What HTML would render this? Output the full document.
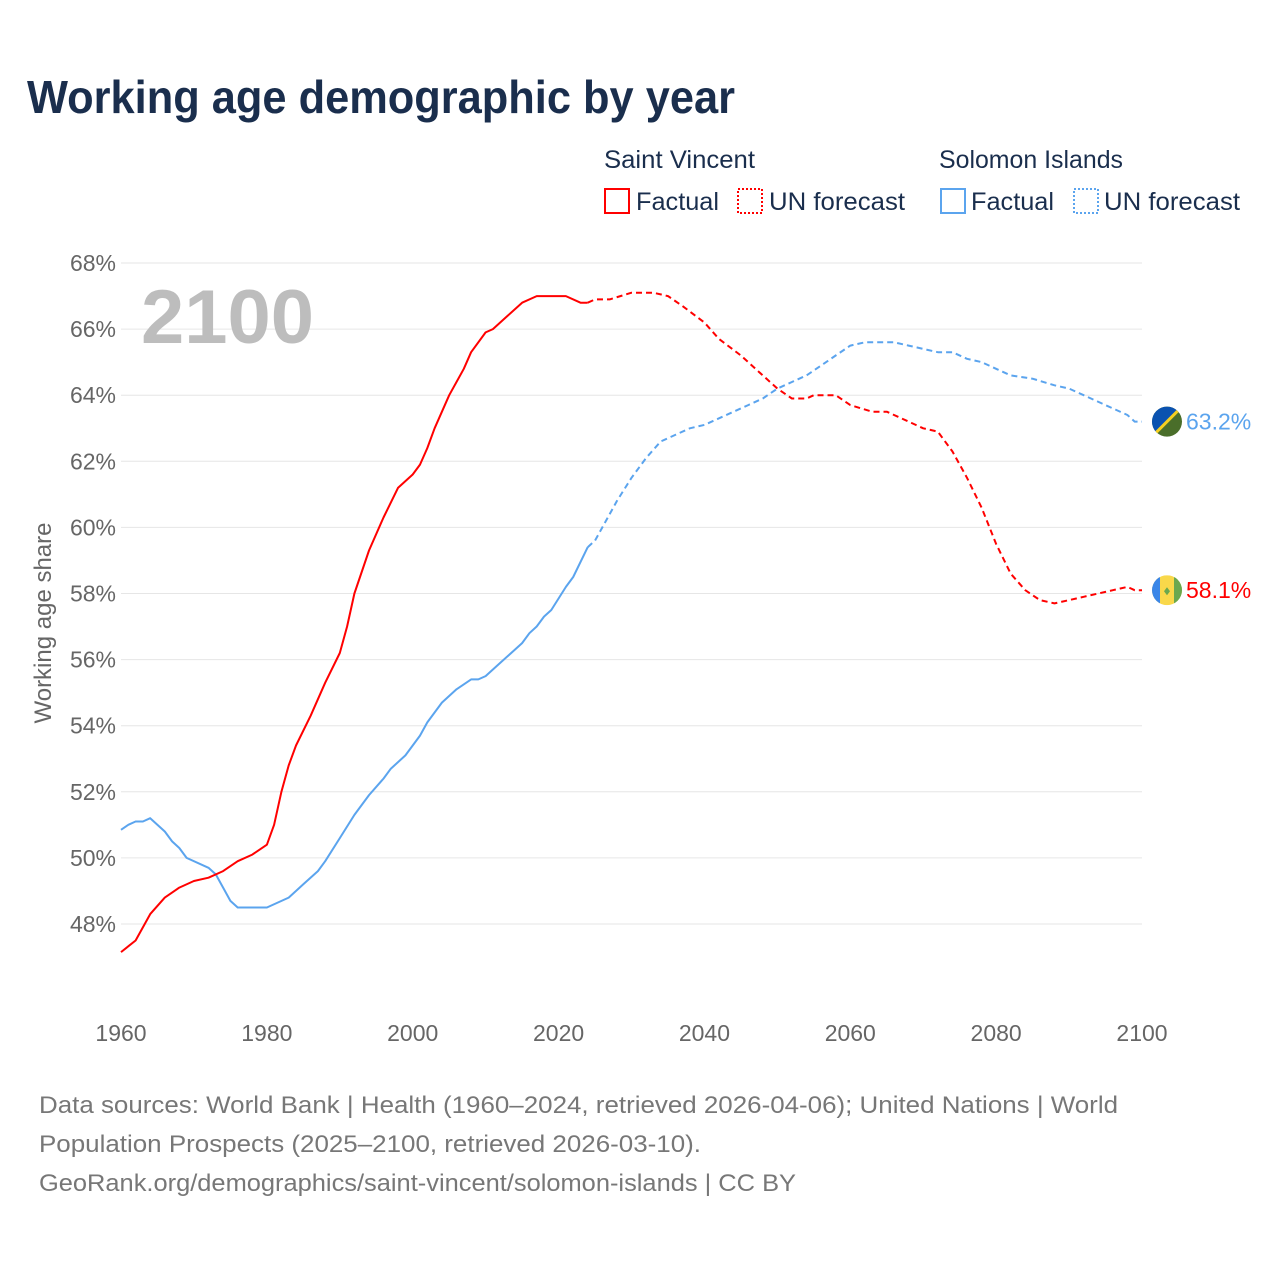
<!DOCTYPE html>
<html><head><meta charset="utf-8"><style>
html,body{margin:0;padding:0;background:#fff;}
svg{display:block;font-family:"Liberation Sans",sans-serif;}
</style></head><body>
<svg id="chart" width="1280" height="1280" viewBox="0 0 1280 1280" xmlns="http://www.w3.org/2000/svg">
<text x="27" y="113" font-size="46" font-weight="bold" fill="#1a2e4d" textLength="708" lengthAdjust="spacingAndGlyphs">Working age demographic by year</text>
<g fill="#1a2e4d" font-size="25">
<text x="604" y="168" textLength="151" lengthAdjust="spacingAndGlyphs">Saint Vincent</text>
<text x="939" y="168" textLength="184" lengthAdjust="spacingAndGlyphs">Solomon Islands</text>
<g><rect x="605" y="189" width="24" height="24" fill="none" stroke="#ff0000" stroke-width="2"/><text x="636" y="210" textLength="83" lengthAdjust="spacingAndGlyphs">Factual</text></g>
<g><rect x="738" y="189" width="24" height="24" fill="none" stroke="#ff0000" stroke-width="2" stroke-dasharray="2,2"/><text x="769" y="210" textLength="136" lengthAdjust="spacingAndGlyphs">UN forecast</text></g>
<g><rect x="941" y="189" width="24" height="24" fill="none" stroke="#5ba4ee" stroke-width="2"/><text x="971" y="210" textLength="83" lengthAdjust="spacingAndGlyphs">Factual</text></g>
<g><rect x="1074" y="189" width="24" height="24" fill="none" stroke="#5ba4ee" stroke-width="2" stroke-dasharray="2,2"/><text x="1104" y="210" textLength="136" lengthAdjust="spacingAndGlyphs">UN forecast</text></g>
</g>
<g id="grid"></g>
<text x="141" y="343" font-size="76" font-weight="bold" fill="#bdbdbd" textLength="173" lengthAdjust="spacingAndGlyphs">2100</text>
<text transform="translate(51,623) rotate(-90)" text-anchor="middle" font-size="24" fill="#666">Working age share</text>
<g id="series"></g>
<g font-size="24" fill="#777">
<text x="39" y="1113" textLength="1079" lengthAdjust="spacingAndGlyphs">Data sources: World Bank | Health (1960–2024, retrieved 2026-04-06); United Nations | World</text>
<text x="39" y="1152" textLength="662" lengthAdjust="spacingAndGlyphs">Population Prospects (2025–2100, retrieved 2026-03-10).</text>
<text x="39" y="1191" textLength="757" lengthAdjust="spacingAndGlyphs">GeoRank.org/demographics/saint-vincent/solomon-islands | CC BY</text>
</g>
</svg>
<script>
const yTicks=[48,50,52,54,56,58,60,62,64,66,68];
const xTicks=[1960,1980,2000,2020,2040,2060,2080,2100];
const svYears=[1960,1962,1964,1966,1968,1970,1972,1974,1976,1978,1980,1981,1982,1983,1984,1986,1988,1990,1991,1992,1994,1996,1998,2000,2001,2002,2003,2005,2007,2008,2010,2011,2013,2015,2017,2021,2023,2024];
const svValues=[47.15,47.5,48.3,48.8,49.1,49.3,49.4,49.6,49.9,50.1,50.4,51.0,52.0,52.8,53.4,54.3,55.3,56.2,57.0,58.0,59.3,60.3,61.2,61.6,61.9,62.4,63.0,64.0,64.8,65.3,65.9,66.0,66.4,66.8,67.0,67.0,66.8,66.8];
const svFYears=[2024,2025,2027,2030,2033,2035,2037,2040,2042,2045,2047,2050,2052,2054,2055,2058,2060,2063,2065,2068,2070,2072,2074,2076,2078,2080,2082,2084,2086,2088,2090,2092,2094,2096,2098,2099,2100];
const svFValues=[66.8,66.9,66.9,67.1,67.1,67.0,66.7,66.2,65.7,65.2,64.8,64.2,63.9,63.9,64.0,64.0,63.7,63.5,63.5,63.2,63.0,62.9,62.3,61.5,60.6,59.5,58.6,58.1,57.8,57.7,57.8,57.9,58.0,58.1,58.2,58.1,58.1];
const siYears=[1960,1961,1962,1963,1964,1966,1967,1968,1969,1972,1973,1974,1975,1976,1980,1983,1985,1987,1988,1990,1992,1994,1996,1997,1999,2001,2002,2004,2006,2008,2009,2010,2012,2014,2015,2016,2017,2018,2019,2021,2022,2024];
const siValues=[50.85,51.0,51.1,51.1,51.2,50.8,50.5,50.3,50.0,49.7,49.5,49.1,48.7,48.5,48.5,48.8,49.2,49.6,49.9,50.6,51.3,51.9,52.4,52.7,53.1,53.7,54.1,54.7,55.1,55.4,55.4,55.5,55.9,56.3,56.5,56.8,57.0,57.3,57.5,58.2,58.5,59.4];
const siFYears=[2024,2025,2028,2030,2032,2034,2036,2038,2040,2042,2044,2046,2048,2050,2052,2054,2056,2058,2060,2062,2066,2068,2070,2072,2074,2076,2078,2080,2082,2085,2088,2090,2092,2095,2098,2099,2100];
const siFValues=[59.4,59.6,60.8,61.5,62.1,62.6,62.8,63.0,63.1,63.3,63.5,63.7,63.9,64.2,64.4,64.6,64.9,65.2,65.5,65.6,65.6,65.5,65.4,65.3,65.3,65.1,65.0,64.8,64.6,64.5,64.3,64.2,64.0,63.7,63.4,63.2,63.2];
const endLabels=["58.1%","63.2%"];
const NS="http://www.w3.org/2000/svg";
const X=y=>121+(y-1960)*(1021/140);
const Y=v=>263+(68-v)*(661/20);
const grid=document.getElementById('grid');
function mk(tag,attrs,parent){const e=document.createElementNS(NS,tag);for(const k in attrs)e.setAttribute(k,attrs[k]);parent.appendChild(e);return e;}
yTicks.forEach(t=>{
  const l=mk('line',{x1:121,x2:1142,y1:Y(t),y2:Y(t),stroke:'#e6e6e6','stroke-width':1},grid);
  
  
  const tx=mk('text',{x:116,y:Y(t)+8,'text-anchor':'end','font-size':23,fill:'#666'},grid);
  
  
  tx.textContent=t+'%';
});
xTicks.forEach(t=>{
  const tx=mk('text',{x:X(t),y:1041,'text-anchor':'middle','font-size':23,fill:'#666'},grid);
  
  
  tx.textContent=t;
});
const ser=document.getElementById('series');
function line(xs,vs,color,dash,name){
  const d=xs.map((x,i)=>(i?'L':'M')+X(x).toFixed(1)+','+Y(vs[i]).toFixed(1)).join('');
  const p=mk('path',{d:d,fill:'none',stroke:color,'stroke-width':2,'stroke-linejoin':'round'},ser);
  if(dash)p.setAttribute('stroke-dasharray','6,4');
  
  
}
line(siYears,siValues,'#5ba4ee',false,'solomon-islands-factual-line');
line(siFYears,siFValues,'#5ba4ee',true,'solomon-islands-forecast-line');
line(svYears,svValues,'#ff0000',false,'saint-vincent-factual-line');
line(svFYears,svFValues,'#ff0000',true,'saint-vincent-forecast-line');
// end markers
const svEnd=svFValues[svFValues.length-1], siEnd=siFValues[siFValues.length-1];
const cx=1167;
// Solomon flag
const g1=mk('g',{},ser);


mk('clipPath',{id:'c1'},g1).appendChild(Object.assign(document.createElementNS(NS,'circle'),{}));
const c1=document.querySelector('#c1 circle');c1.setAttribute('cx',cx);c1.setAttribute('cy',Y(siEnd));c1.setAttribute('r',15);
mk('circle',{cx:cx,cy:Y(siEnd),r:15,fill:'#4a6e2a'},g1);
mk('path',{d:`M${cx-15},${Y(siEnd)-15}L${cx+15},${Y(siEnd)-15}L${cx-15},${Y(siEnd)+15}Z`,fill:'#0a52b0','clip-path':'url(#c1)'},g1);
mk('line',{x1:cx+15,y1:Y(siEnd)-15,x2:cx-15,y2:Y(siEnd)+15,stroke:'#f5d020','stroke-width':3,'clip-path':'url(#c1)'},g1);
// Saint Vincent flag
const g2=mk('g',{},ser);


const cp2=mk('clipPath',{id:'c2'},g2);mk('circle',{cx:cx,cy:Y(svEnd),r:15},cp2);
mk('rect',{x:cx-15,y:Y(svEnd)-15,width:30,height:30,fill:'#f9d84a','clip-path':'url(#c2)'},g2);
mk('rect',{x:cx-15,y:Y(svEnd)-15,width:8,height:30,fill:'#3a86e8','clip-path':'url(#c2)'},g2);
mk('rect',{x:cx+7,y:Y(svEnd)-15,width:8,height:30,fill:'#6aa84f','clip-path':'url(#c2)'},g2);
mk('path',{d:`M${cx},${Y(svEnd)-3}l3,4l-3,4l-3,-4Z`,fill:'#6aa84f'},g2);
const t1=mk('text',{x:1186,y:Y(siEnd)+8,'font-size':23,fill:'#5ba4ee'},ser);


t1.textContent=endLabels[1];
const t2=mk('text',{x:1186,y:Y(svEnd)+8,'font-size':23,fill:'#ff0000'},ser);


t2.textContent=endLabels[0];
</script>
</body></html>
